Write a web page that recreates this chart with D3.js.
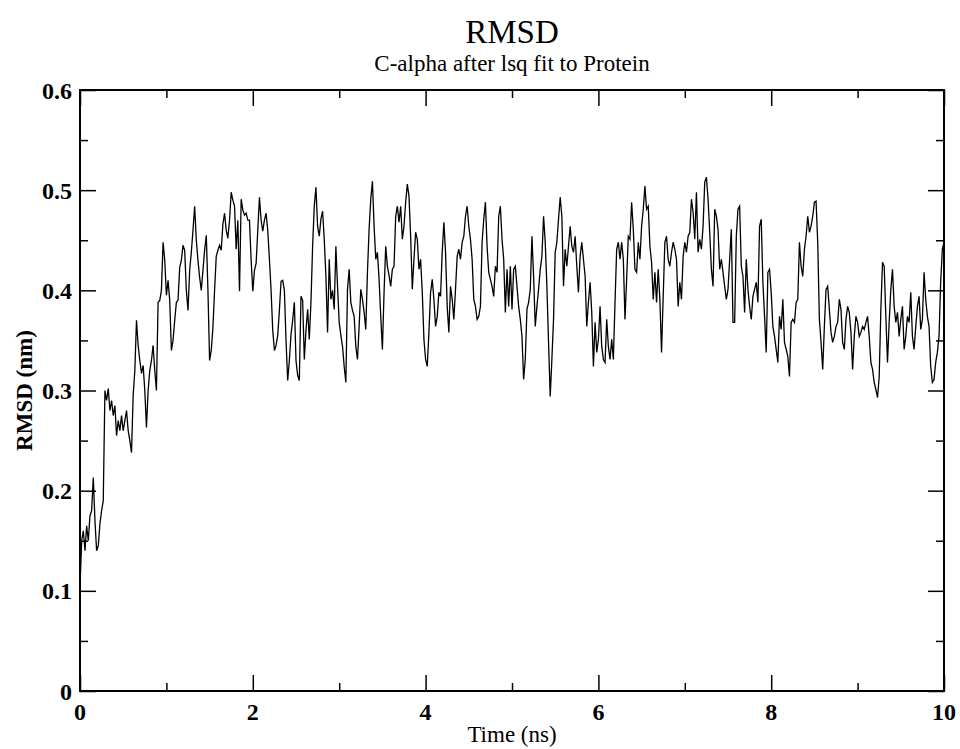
<!DOCTYPE html>
<html>
<head>
<meta charset="utf-8">
<script src="https://cdn.jsdelivr.net/npm/d3@7"></script>
<style>
  html, body { margin: 0; padding: 0; background: #fff; }
  svg text { font-family: "Liberation Serif", "Times New Roman", serif; fill: #000; }
</style>
</head>
<body>
<svg id="chart" width="960" height="749"></svg>
<script>
// ---- Data (RMSD in nm, sampled uniformly from 0 to 10 ns) ----
const titleText = "RMSD";
const subtitleText = "C-alpha after lsq fit to Protein";
const xLabel = "Time (ns)";
const yLabel = "RMSD (nm)";
const timeStart = 0;
const timeEnd = 10;

const rmsdA = [
  0.103,0.150,0.160,0.140,0.165,0.150,0.175,0.180,0.213,0.170,
  0.140,0.145,0.167,0.180,0.190,0.300,0.290,0.302,0.280,0.290,
  0.275,0.285,0.255,0.270,0.260,0.275,0.260,0.270,0.280,0.260,
  0.250,0.238,0.295,0.320,0.370,0.345,0.330,0.317,0.325,0.300,
  0.263,0.300,0.320,0.330,0.345,0.320,0.300,0.388,0.390,0.400,
  0.448,0.430,0.395,0.410,0.390,0.340,0.350,0.370,0.388,0.390,
  0.423,0.430,0.445,0.440,0.400,0.380,0.420,0.438,0.460,0.484,
  0.450,0.430,0.413,0.400,0.420,0.440,0.455,0.400,0.330,0.340,
  0.363,0.400,0.434,0.440,0.445,0.440,0.466,0.477,0.460,0.452,
  0.470,0.498,0.490,0.484,0.441,0.470,0.399,0.491,0.480,0.475,
  0.477,0.470,0.470,0.430,0.399,0.420,0.427,0.460,0.493,0.470,
  0.459,0.470,0.477,0.460,0.431,0.400,0.360,0.340,0.345,0.355,
  0.380,0.409,0.410,0.400,0.350,0.310,0.330,0.356,0.370,0.388
];
const rmsdB = [
  0.330,0.315,0.310,0.394,0.390,0.331,0.360,0.381,0.351,0.388,
  0.444,0.484,0.503,0.464,0.454,0.471,0.479,0.451,0.414,0.358,
  0.431,0.391,0.400,0.381,0.444,0.404,0.368,0.355,0.344,0.324,
  0.308,0.401,0.421,0.388,0.380,0.374,0.344,0.331,0.364,0.401,
  0.391,0.378,0.361,0.418,0.461,0.491,0.509,0.464,0.431,0.438,
  0.411,0.374,0.341,0.398,0.444,0.424,0.415,0.404,0.421,0.424,
  0.474,0.484,0.468,0.484,0.451,0.464,0.488,0.506,0.494,0.454,
  0.401,0.431,0.458,0.451,0.421,0.431,0.398,0.351,0.331,0.324,
  0.358,0.398,0.411,0.391,0.364,0.374,0.398,0.394,0.438,0.468,
  0.438,0.384,0.358,0.404,0.391,0.371,0.401,0.434,0.441,0.431,
  0.448,0.454,0.474,0.484,0.464,0.451,0.431,0.391,0.384,0.371,
  0.374,0.384,0.448,0.471,0.488,0.444,0.418,0.411,0.404,0.394,
  0.424,0.418,0.474,0.484,0.451,0.431,0.378,0.421,0.384,0.424,
  0.381,0.421
];
const rmsdC = [
  0.424,0.404,0.384,0.371,0.354,0.311,0.331,0.381,0.388,0.401,
  0.454,0.414,0.364,0.384,0.401,0.421,0.434,0.474,0.448,0.404,
  0.348,0.294,0.331,0.371,0.438,0.448,0.471,0.493,0.474,0.404,
  0.441,0.424,0.444,0.464,0.444,0.438,0.454,0.424,0.398,0.434,
  0.448,0.431,0.414,0.364,0.388,0.408,0.378,0.324,0.368,0.338,
  0.351,0.384,0.344,0.331,0.328,0.371,0.344,0.331,0.351,0.331,
  0.388,0.441,0.448,0.431,0.448,0.431,0.371,0.411,0.454,0.451,
  0.488,0.461,0.421,0.418,0.448,0.431,0.464,0.481,0.504,0.481,
  0.484,0.444,0.428,0.391,0.418,0.388,0.421,0.391,0.338,0.394,
  0.448,0.454,0.431,0.424,0.438,0.448,0.441,0.431,0.384,0.408,
  0.391,0.434,0.448,0.438,0.454,0.458,0.491,0.478,0.451,0.498,
  0.438,0.451,0.441,0.464,0.508,0.513,0.491,0.458,0.421,0.404,
  0.481,0.474,0.461,0.421,0.431,0.418,0.404,0.391,0.401,0.431,
  0.461,0.368
];
const rmsdD = [
  0.368,0.454,0.481,0.484,0.424,0.414,0.378,0.431,0.401,0.384,
  0.371,0.394,0.401,0.408,0.388,0.464,0.471,0.408,0.374,0.338,
  0.418,0.421,0.398,0.364,0.354,0.341,0.328,0.374,0.361,0.391,
  0.348,0.341,0.334,0.314,0.368,0.371,0.368,0.388,0.391,0.448,
  0.424,0.414,0.441,0.454,0.474,0.458,0.464,0.474,0.488,0.489,
  0.448,0.371,0.348,0.321,0.364,0.401,0.404,0.381,0.358,0.348,
  0.354,0.364,0.368,0.391,0.381,0.348,0.341,0.371,0.384,0.378,
  0.358,0.321,0.354,0.374,0.368,0.354,0.358,0.364,0.361,0.368,
  0.374,0.354,0.328,0.321,0.308,0.301,0.293,0.314,0.381,0.428,
  0.424,0.374,0.328,0.368,0.401,0.421,0.384,0.368,0.378,0.354,
  0.371,0.384,0.341,0.354,0.374,0.368,0.398,0.354,0.341,0.364,
  0.384,0.394,0.361,0.371,0.418,0.391,0.374,0.364,0.324,0.308,
  0.311,0.328,0.338,0.354,0.408,0.441,0.448
];

const xMajorTicks = [0, 2, 4, 6, 8, 10];
const xMinorTicks = [1, 3, 5, 7, 9];
const yMajorTicks = [0, 0.1, 0.2, 0.3, 0.4, 0.5, 0.6];
const yMinorTicks = [0.05, 0.15, 0.25, 0.35, 0.45, 0.55];
const yTickLabels = ["0", "0.1", "0.2", "0.3", "0.4", "0.5", "0.6"];
const xTickLabels = ["0", "2", "4", "6", "8", "10"];

// ---- Build series ----
const rmsd = rmsdA.concat(rmsdB, rmsdC, rmsdD);
const nPts = rmsd.length;
const series = rmsd.map((v, i) => ({ t: timeStart + (timeEnd - timeStart) * i / (nPts - 1), v }));

// ---- Layout ----
const svg = d3.select("#chart");
const plotL = 80, plotR = 944, plotT = 90, plotB = 691;
const fontFam = "'Liberation Serif', 'Times New Roman', serif";

const x = d3.scaleLinear().domain([0, 10]).range([plotL, plotR]);
const y = d3.scaleLinear().domain([0, 0.6]).range([plotB, plotT]);

const majorLen = 16, minorLen = 8;

// data line
const lineGen = d3.line().x(d => x(d.t)).y(d => y(d.v));
svg.append("path")
  .datum(series)
  .attr("d", lineGen)
  .attr("fill", "none")
  .attr("stroke", "#000")
  .attr("stroke-width", 1.3)
  .attr("stroke-linejoin", "miter");

// axes with inward ticks
function addAxis(axisGen, tx, ty, ticks, len) {
  const g = svg.append("g").attr("transform", `translate(${tx},${ty})`)
    .call(axisGen.tickValues(ticks).tickSize(len).tickFormat(""));
  g.select(".domain").remove();
  g.selectAll(".tick line").attr("stroke", "#000").attr("stroke-width", 1.5);
  return g;
}
addAxis(d3.axisTop(x), 0, plotB, xMajorTicks, majorLen);
addAxis(d3.axisTop(x), 0, plotB, xMinorTicks, minorLen);
addAxis(d3.axisBottom(x), 0, plotT, xMajorTicks, majorLen);
addAxis(d3.axisBottom(x), 0, plotT, xMinorTicks, minorLen);
addAxis(d3.axisRight(y), plotL, 0, yMajorTicks, majorLen);
addAxis(d3.axisRight(y), plotL, 0, yMinorTicks, minorLen);
addAxis(d3.axisLeft(y), plotR, 0, yMajorTicks, majorLen);
addAxis(d3.axisLeft(y), plotR, 0, yMinorTicks, minorLen);

// frame
svg.append("rect")
  .attr("x", plotL).attr("y", plotT)
  .attr("width", plotR - plotL).attr("height", plotB - plotT)
  .attr("fill", "none").attr("stroke", "#000").attr("stroke-width", 2);

// tick labels
svg.append("g").selectAll("text").data(yMajorTicks).join("text")
  .attr("x", plotL - 8)
  .attr("y", d => y(d))
  .attr("dy", "0.36em")
  .attr("text-anchor", "end")
  .attr("font-family", fontFam)
  .attr("font-size", 24)
  .attr("font-weight", "bold")
  .text((d, i) => yTickLabels[i]);

svg.append("g").selectAll("text").data(xMajorTicks).join("text")
  .attr("x", d => x(d))
  .attr("y", plotB + 29)
  .attr("text-anchor", "middle")
  .attr("font-family", fontFam)
  .attr("font-size", 24)
  .attr("font-weight", "bold")
  .text((d, i) => xTickLabels[i]);

// titles
svg.append("text").attr("x", (plotL + plotR) / 2).attr("y", 43)
  .attr("text-anchor", "middle").attr("font-family", fontFam)
  .attr("font-size", 33).text(titleText);
svg.append("text").attr("x", (plotL + plotR) / 2).attr("y", 71)
  .attr("text-anchor", "middle").attr("font-family", fontFam)
  .attr("font-size", 23).text(subtitleText);

// axis labels
svg.append("text").attr("x", (plotL + plotR) / 2).attr("y", 742)
  .attr("text-anchor", "middle").attr("font-family", fontFam)
  .attr("font-size", 23).text(xLabel);
svg.append("text")
  .attr("transform", `translate(32,${(plotT + plotB) / 2}) rotate(-90)`)
  .attr("text-anchor", "middle").attr("font-family", fontFam)
  .attr("font-size", 23).attr("font-weight", "bold").text(yLabel);
</script>
</body>
</html>
